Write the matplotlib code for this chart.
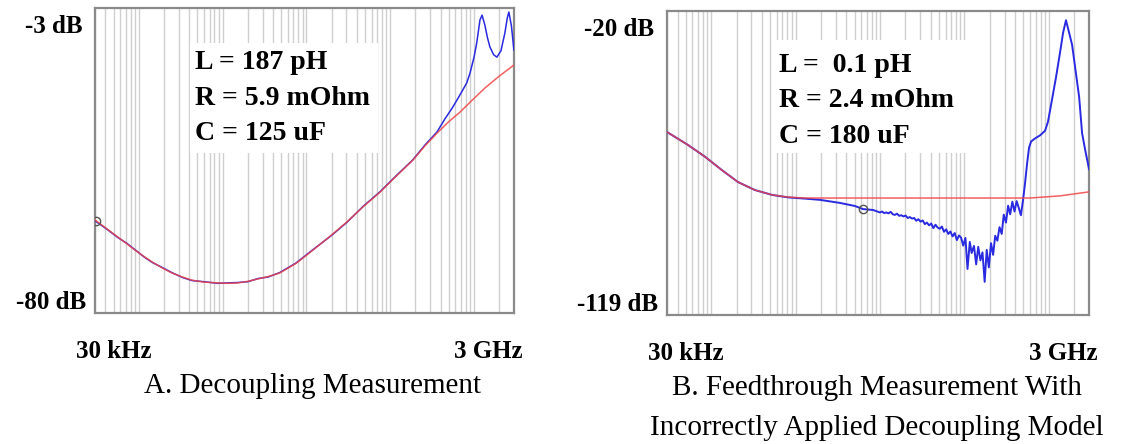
import matplotlib.pyplot as plt
from matplotlib.patches import Rectangle
from matplotlib.ticker import LogLocator, NullFormatter

# Panel A: decoupling measurement (blue) and fitted RLC model (red)
freq_a_model = [3.0e4, 4.2e4, 5.6e4, 7.2e4, 9.0e4, 1.15e5, 1.44e5, 1.9e5, 2.49e5,
                3.3e5, 4.3e5, 6.0e5, 8.8e5, 1.15e6, 1.52e6, 2.0e6, 2.64e6, 3.5e6,
                4.8e6, 7.5e6, 1.2e7, 2.0e7, 3.05e7, 4.8e7, 7.55e7, 1.2e8, 1.87e8,
                2.6e8, 3.62e8, 5.0e8, 6.8e8, 9.6e8, 1.35e9, 2.0e9, 3.0e9]
db_a_model = [-56.5, -58.8, -60.8, -62.5, -64.1, -65.7, -67.1, -68.6, -69.9,
              -70.9, -71.7, -72.2, -72.4, -72.5, -72.4, -72.0, -71.4, -70.8,
              -69.9, -67.5, -64.1, -60.3, -57.0, -53.1, -49.5, -45.3, -41.4,
              -37.8, -34.6, -31.7, -29.3, -26.2, -23.2, -20.2, -17.4]

freq_a_meas = [3.0e4, 4.2e4, 5.6e4, 7.2e4, 9.0e4, 1.15e5, 1.44e5, 1.9e5, 2.49e5,
               3.3e5, 4.3e5, 6.0e5, 8.8e5, 1.15e6, 1.52e6, 2.0e6, 2.64e6, 3.5e6,
               4.8e6, 7.5e6, 1.2e7, 2.0e7, 3.05e7, 4.8e7, 7.55e7, 1.2e8, 1.87e8,
               2.6e8, 3.62e8, 4.5e8, 5.6e8, 7.0e8, 8.2e8, 8.96e8, 1.0e9, 1.08e9,
               1.18e9, 1.25e9, 1.35e9, 1.45e9, 1.55e9, 1.72e9, 1.88e9, 2.1e9,
               2.34e9, 2.5e9, 2.61e9, 2.8e9, 3.0e9]
db_a_meas = [-56.7, -58.9, -60.9, -62.4, -64.0, -65.8, -67.2, -68.5, -69.8,
             -71.0, -71.8, -72.1, -72.5, -72.4, -72.3, -72.1, -71.3, -70.9,
             -69.8, -67.4, -64.0, -60.4, -57.1, -53.0, -49.4, -45.2, -41.3,
             -37.6, -34.3, -31.0, -28.0, -24.5, -21.9, -19.5, -15.5, -11.8,
             -6.0, -4.8, -7.3, -10.5, -12.8, -14.8, -15.4, -13.8,
             -9.3, -5.5, -4.0, -7.5, -13.6]

# Panel B: feedthrough measurement (blue) with the decoupling model (red)
freq_b_model = [3.0e4, 5.3e4, 8.5e4, 1.34e5, 2.08e5, 3.3e5, 5.3e5, 8.2e5, 1.3e6,
                1.0e7, 1.0e8, 6.0e8, 1.36e9, 3.0e9]
db_b_model = [-59.4, -63.6, -67.5, -71.8, -75.7, -78.3, -79.9, -80.6, -80.9,
              -80.9, -80.9, -80.9, -80.2, -78.9]

# measured trace: smooth capacitive roll-off, noisy floor, board resonance
freq_b_low = [3.0e4, 5.3e4, 8.5e4, 1.34e5, 2.08e5, 3.3e5, 5.3e5, 8.2e5, 1.3e6,
              1.95e6, 3.36e6, 5.06e6, 6.3e6, 8.3e6]
db_b_low = [-59.4, -63.6, -67.5, -71.8, -75.7, -78.3, -79.9, -80.7, -81.1,
            -81.5, -82.5, -83.5, -84.5, -84.8]

freq_b_floor = [1.0e7, 1.06e7, 1.12e7, 1.19e7, 1.26e7, 1.34e7, 1.42e7, 1.50e7,
                1.59e7, 1.69e7, 1.79e7, 1.90e7, 2.01e7, 2.13e7, 2.26e7, 2.40e7,
                2.54e7, 2.69e7, 2.85e7, 3.03e7, 3.21e7, 3.40e7, 3.60e7, 3.82e7,
                4.05e7, 4.29e7, 4.55e7, 4.82e7, 5.11e7, 5.42e7, 5.74e7, 6.09e7,
                6.45e7, 6.84e7, 7.25e7, 7.69e7, 8.15e7, 8.64e7, 9.15e7, 9.70e7,
                1.03e8, 1.09e8, 1.16e8, 1.22e8, 1.30e8, 1.38e8, 1.46e8, 1.55e8,
                1.64e8, 1.74e8, 1.84e8, 1.95e8, 2.07e8, 2.19e8, 2.32e8, 2.46e8,
                2.61e8, 2.77e8, 2.93e8, 3.11e8, 3.30e8, 3.49e8, 3.70e8, 3.93e8,
                4.16e8, 4.41e8, 4.68e8, 4.96e8]
db_b_floor = [-85.6, -85.3, -85.8, -85.6, -85.9, -85.4, -86.2, -86.4,
              -86.0, -86.7, -86.5, -86.9, -86.6, -87.4, -87.1, -87.6,
              -87.4, -88.3, -87.8, -88.6, -88.2, -89.4, -88.9, -89.8,
              -89.2, -90.7, -89.6, -90.5, -90.9, -90.2, -91.9, -91.1,
              -92.6, -91.8, -93.4, -92.3, -94.6, -93.1, -93.8, -96.4,
              -93.9, -104.0, -95.2, -98.8, -96.5, -102.5, -96.8, -101.2,
              -98.6, -108.2, -97.8, -103.5, -95.6, -99.4, -93.2, -94.8,
              -90.4, -92.6, -86.3, -88.9, -83.4, -86.2, -82.1, -85.3,
              -81.9, -84.1, -86.5, -81.5]

freq_b_peak = [5.24e8, 5.52e8, 5.84e8, 6.17e8, 6.87e8, 7.88e8, 9.04e8, 9.8e8,
               1.09e9, 1.22e9, 1.36e9, 1.48e9, 1.60e9, 1.74e9, 1.89e9, 2.05e9,
               2.29e9, 2.48e9, 2.69e9, 3.0e9]
db_b_peak = [-76.0, -70.0, -64.5, -62.5, -61.5, -60.5, -59.0, -56.0,
             -49.0, -41.5, -33.5, -27.0, -23.0, -27.0, -31.0, -38.2,
             -48.0, -59.7, -65.0, -71.5]

freq_b_meas = freq_b_low + freq_b_floor + freq_b_peak
db_b_meas = db_b_low + db_b_floor + db_b_peak

# cursor markers on the measured traces
marker_a = (3.08e4, -56.8)
marker_b = (6.3e6, -84.5)

labels_a = ['L = 187 pH', 'R = 5.9 mOhm', 'C = 125 uF']
labels_b = ['L =  0.1 pH', 'R = 2.4 mOhm', 'C = 180 uF']
ylabels_a = ['-3 dB', '-80 dB']
ylabels_b = ['-20 dB', '-119 dB']
ylim_a = (-80, -3)
ylim_b = (-119, -20)
xlabels = ['30 kHz', '3 GHz']
caption_a = 'A. Decoupling Measurement'
caption_b = 'B. Feedthrough Measurement With\nIncorrectly Applied Decoupling Model'

plt.rcParams['font.family'] = ['Liberation Serif', 'DejaVu Serif']

BLUE = '#2a2ae0'
RED = '#f04545'
GRID = '#cfcfcf'

fig = plt.figure(figsize=(11.29, 4.44), dpi=100)
ax_a = fig.add_axes([0.0841, 0.2950, 0.3711, 0.6869])
ax_b = fig.add_axes([0.5908, 0.2905, 0.3738, 0.6847])


def panel(ax, fm, dm, fr, dr, mk, ylim, labels, ylabels, box, lw_meas):
    ax.set_xscale('log')
    ax.set_xlim(3e4, 3e9)
    ax.set_ylim(*ylim)
    ax.set_axisbelow(True)
    ax.xaxis.set_major_locator(LogLocator(base=10, subs=(1.0,)))
    ax.xaxis.set_minor_locator(LogLocator(base=10, subs=tuple(range(2, 10))))
    ax.xaxis.set_minor_formatter(NullFormatter())
    ax.grid(True, axis='x', which='both', color=GRID, lw=1.0)
    ax.tick_params(which='both', length=0, labelbottom=False, labelleft=False)
    for s in ax.spines.values():
        s.set_color('#8a8a8a')
        s.set_linewidth(1.6)

    # white panel behind the model parameters
    ax.add_patch(Rectangle((box[0], box[1]), box[2], box[3], transform=ax.transAxes,
                           facecolor='white', edgecolor='none', zorder=1))

    ax.plot(fm, dm, color=BLUE, lw=lw_meas, zorder=3)
    ax.plot(fr, dr, color=RED, lw=1.1, alpha=0.85, zorder=4)
    ax.plot(*mk, marker='o', ms=6, mfc='none', mec='#555555', mew=1.0, zorder=5)

    ys = [0.82, 0.705, 0.588]
    for t, y in zip(labels, ys):
        ax.text(box[0] + 0.012, y, t, transform=ax.transAxes, fontsize=20,
                fontweight='bold', va='center', ha='left', zorder=6)

    ax.text(-0.03, 0.94, ylabels[0], transform=ax.transAxes, fontsize=18,
            fontweight='bold', ha='right', va='center')
    ax.text(-0.02, 0.035, ylabels[1], transform=ax.transAxes, fontsize=18,
            fontweight='bold', ha='right', va='center')
    ax.text(-0.045, -0.125, xlabels[0], transform=ax.transAxes, fontsize=18,
            fontweight='bold', ha='left', va='center')
    ax.text(1.02, -0.125, xlabels[1], transform=ax.transAxes, fontsize=18,
            fontweight='bold', ha='right', va='center')


panel(ax_a, freq_a_meas, db_a_meas, freq_a_model, db_a_model, marker_a, ylim_a,
      labels_a, ylabels_a, (0.227, 0.525, 0.448, 0.36), 1.1)
panel(ax_b, freq_b_meas, db_b_meas, freq_b_model, db_b_model, marker_b, ylim_b,
      labels_b, ylabels_b, (0.254, 0.533, 0.455, 0.372), 1.4)

fig.text(0.277, 1 - 386 / 444, caption_a, fontsize=21, ha='center', va='center')
fig.text(0.777, 1 - 408 / 444, caption_b, fontsize=21, ha='center', va='center',
         linespacing=1.7)

fig.savefig('out.png', dpi=100, facecolor='white')
